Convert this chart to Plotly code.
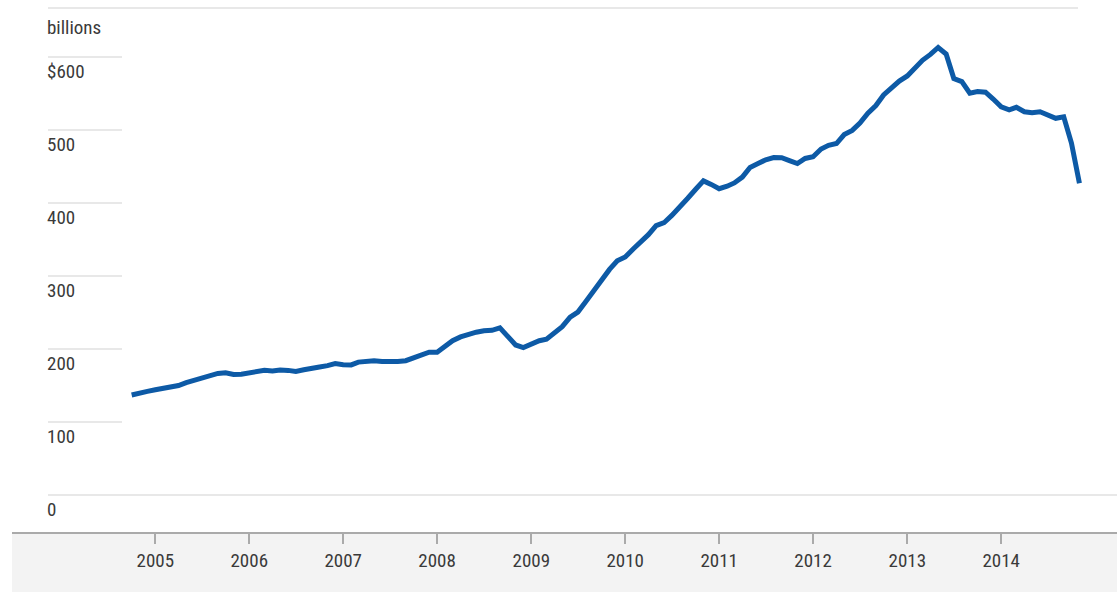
import pandas as pd
import plotly.graph_objects as go

# Monthly data, Oct 2004 - Nov 2014 (billions of dollars)
dates = pd.date_range("2004-10-01", "2014-11-01", freq="MS")
values = [
    137, 140.3, 142, 144.2, 146.2, 148, 150, 154, 157, 159.5, 162, 166.5,
    167.5, 165, 165.5, 167.5, 170, 170.7, 170, 171.3, 170.7, 169.3, 171.5, 174.2,
    175.4, 177.2, 180, 178.3, 178.2, 182, 183, 184, 183, 182.2, 183, 184,
    188, 192.3, 195.5, 195.5, 204.7, 211.3, 216.5, 220.5, 223, 225, 225.6, 229,
    217, 205.5, 202, 207, 211.3, 213.5, 222, 230.5, 243.5, 250.6, 265, 280,
    295, 309, 320.8, 326, 337, 346, 356.6, 369, 373, 383, 393.7, 406.5,
    418.5, 430.3, 425.5, 419.5, 423, 427.5, 435.5, 448.7, 454, 459.2, 462.3, 462,
    458, 454, 461, 463.3, 474, 479, 481.4, 493.8, 499.5, 509.5, 523, 533.5,
    548, 558, 567, 574, 585, 595.5, 603.5, 613, 604, 570.5, 566.3, 550.4,
    552.8, 551.7, 542.4, 531.7, 527.6, 531, 525, 523.7, 525, 520.8, 516, 518,
    482, 427,
]
x_tick_years = [2005, 2006, 2007, 2008, 2009, 2010, 2011, 2012, 2013, 2014]
y_ticks = [0, 100, 200, 300, 400, 500, 600]
y_labels = ["0", "100", "200", "300", "400", "500", "$600"]
unit_label = "billions"

FONT = "Roboto Condensed, Liberation Sans Narrow, DejaVu Sans Condensed, Roboto, sans-serif"
TXT = "#3a3a3a"
GRID = "#e8e8e8"
FS = 19

fig = go.Figure()
fig.add_trace(go.Scatter(
    x=dates, y=values, mode="lines",
    line=dict(color="#0d5aa6", width=5),
    hoverinfo="skip", showlegend=False,
))

W, H = 1117, 592
ml, mr, mt, mb = 12, 0, 8, 60
pw, ph = W - ml - mr, H - mt - mb
gx0 = (48 - ml) / pw
gx1 = (122 - ml) / pw

shapes = []
shapes.append(dict(type="rect", xref="paper", yref="paper", x0=0, x1=1,
                   y0=-mb / ph, y1=0, fillcolor="#f3f3f3", line=dict(width=0),
                   layer="below"))
shapes.append(dict(type="line", xref="paper", yref="paper", x0=gx0,
                   x1=(1078 - ml) / pw, y0=1, y1=1,
                   line=dict(color=GRID, width=2)))
annotations = []
for v, lab in zip(y_ticks, y_labels):
    x1 = 1.0 if v == 0 else gx1
    shapes.append(dict(type="line", xref="paper", yref="y", x0=gx0, x1=x1,
                       y0=v, y1=v, line=dict(color=GRID, width=2),
                       layer="below"))
    annotations.append(dict(xref="paper", yref="y", x=gx0, y=v, text=lab,
                            showarrow=False, xanchor="left", yanchor="top",
                            yshift=-1, xshift=-3,
                            font=dict(family=FONT, size=FS, color=TXT)))
annotations.append(dict(xref="paper", yref="paper", x=gx0,
                        y=1 - (28 - mt) / ph,
                        text=unit_label, showarrow=False, xanchor="left",
                        yanchor="middle", xshift=-3,
                        font=dict(family=FONT, size=FS, color=TXT)))

fig.update_layout(
    width=W, height=H,
    margin=dict(l=ml, r=mr, t=mt, b=mb),
    paper_bgcolor="white", plot_bgcolor="rgba(0,0,0,0)",
    shapes=shapes, annotations=annotations,
    xaxis=dict(
        type="date",
        range=["2003-06-24", "2015-03-27"],
        tickvals=[f"{y}-01-01" for y in x_tick_years],
        ticktext=[str(y) for y in x_tick_years],
        showgrid=False, zeroline=False,
        showline=True, linecolor="#aaaaaa", linewidth=2,
        ticks="outside", ticklen=10, tickcolor="#aaaaaa", tickwidth=2,
        tickfont=dict(family=FONT, size=FS, color=TXT),
        fixedrange=True,
    ),
    yaxis=dict(
        range=[-50.7, 667.1], showgrid=False, zeroline=False,
        showticklabels=False, showline=False, fixedrange=True,
    ),
)

post = ("document.body.style.margin='0';document.body.style.padding='0';"
        "var s=document.createElement('style');"
        "s.textContent='svg text{font-stretch:condensed !important;}';"
        "document.head.appendChild(s);")
fig.write_html("out.html", post_script=post,
               config={"displayModeBar": False, "staticPlot": True})
